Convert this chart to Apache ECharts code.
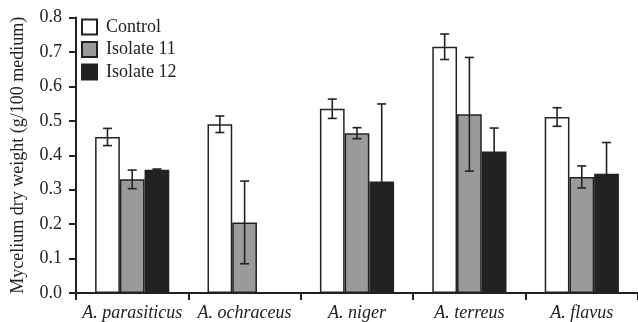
<!DOCTYPE html>
<html>
<head>
<meta charset="utf-8">
<script src="https://cdn.jsdelivr.net/npm/echarts@6/dist/echarts.min.js"></script>
<style>
html,body{margin:0;padding:0;background:#fff;}
#chart{width:638px;height:322px;}
</style>
</head>
<body>
<div id="chart"></div>
<script>
var categories = ['A. parasiticus', 'A. ochraceus', 'A. niger', 'A. terreus', 'A. flavus'];
var seriesNames = ['Control', 'Isolate 11', 'Isolate 12'];
var control = [0.453, 0.490, 0.535, 0.715, 0.511];
var controlErr = [0.025, 0.024, 0.028, 0.037, 0.027];
var isolate11 = [0.330, 0.205, 0.464, 0.519, 0.337];
var isolate11Err = [0.027, 0.120, 0.016, 0.165, 0.032];
var isolate12 = [0.358, null, 0.324, 0.411, 0.346];
var isolate12Err = [0.002, 0, 0.225, 0.068, 0.091];
var yTicks = ['0.0', '0.1', '0.2', '0.3', '0.4', '0.5', '0.6', '0.7', '0.8'];

var FONT = '"Liberation Serif", "Times New Roman", serif';
var BAR_FRAC = 0.22;
var fills = ['#ffffff', '#9a9a9a', '#222222'];
var valuesList = [control, isolate11, isolate12];
var errList = [controlErr, isolate11Err, isolate12Err];

var chart = echarts.init(document.getElementById('chart'), null, {renderer: 'canvas'});

var series = [];
valuesList.forEach(function (vals, k) {
  series.push({
    name: seriesNames[k],
    type: 'bar',
    data: vals,
    barWidth: (BAR_FRAC * 100) + '%',
    barGap: '0%',
    itemStyle: {color: fills[k], borderColor: '#222', borderWidth: 1.5},
    emphasis: {disabled: true},
    z: 2
  });
});
valuesList.forEach(function (vals, k) {
  var errData = vals.map(function (v, i) { return [i, v == null ? 0 : v, errList[k][i]]; });
  series.push({
    type: 'custom',
    name: seriesNames[k] + ' err',
    data: errData,
    z: 5,
    silent: true,
    renderItem: function (params, api) {
      var i = api.value(0), v = api.value(1), e = api.value(2);
      if (!e) return null;
      var catW = api.size([1, 0])[0];
      var bw = catW * BAR_FRAC;
      var c = api.coord([i, v]);
      var x = c[0] + (k - 1) * bw;
      var top = api.coord([i, v + e])[1];
      var bot = api.coord([i, v - e])[1];
      var cap = 4.5;
      var st = {stroke: '#222', lineWidth: 1.6};
      return {
        type: 'group',
        children: [
          {type: 'line', shape: {x1: x, y1: top, x2: x, y2: bot}, style: st},
          {type: 'line', shape: {x1: x - cap, y1: top, x2: x + cap, y2: top}, style: st},
          {type: 'line', shape: {x1: x - cap, y1: bot, x2: x + cap, y2: bot}, style: st}
        ]
      };
    }
  });
});

chart.setOption({
  animation: false,
  backgroundColor: '#ffffff',
  textStyle: {fontFamily: FONT},
  grid: {left: 76, right: 0, top: 17.5, bottom: 28.7, containLabel: false},
  legend: {
    data: seriesNames,
    orient: 'vertical',
    left: 81,
    top: 18,
    padding: 0,
    itemWidth: 15,
    itemHeight: 15,
    itemGap: 4.5,
    icon: 'rect',
    textStyle: {fontFamily: FONT, fontSize: 18, color: '#222', padding: [0, 0, 0, 4]},
    selectedMode: false
  },
  xAxis: {
    type: 'category',
    data: categories,
    boundaryGap: true,
    axisLine: {lineStyle: {color: '#222', width: 2}},
    axisTick: {show: true, length: 7, lineStyle: {color: '#222', width: 2}},
    axisLabel: {interval: 0, fontFamily: FONT, fontSize: 18, fontStyle: 'italic', color: '#222', margin: 11, hideOverlap: false}
  },
  yAxis: {
    type: 'value',
    min: 0,
    max: 0.8,
    interval: 0.1,
    name: 'Mycelium dry weight (g/100 medium)',
    nameLocation: 'middle',
    nameGap: 49,
    nameTextStyle: {fontFamily: FONT, fontSize: 18, color: '#222'},
    splitLine: {show: false},
    axisLine: {show: true, lineStyle: {color: '#222', width: 2}},
    axisTick: {show: true, length: 7, lineStyle: {color: '#222', width: 2}},
    axisLabel: {
      fontFamily: FONT, fontSize: 18, color: '#222', margin: 14,
      formatter: function (v) { return yTicks[Math.round(v * 10)]; }
    }
  },
  series: series
});
</script>
</body>
</html>
